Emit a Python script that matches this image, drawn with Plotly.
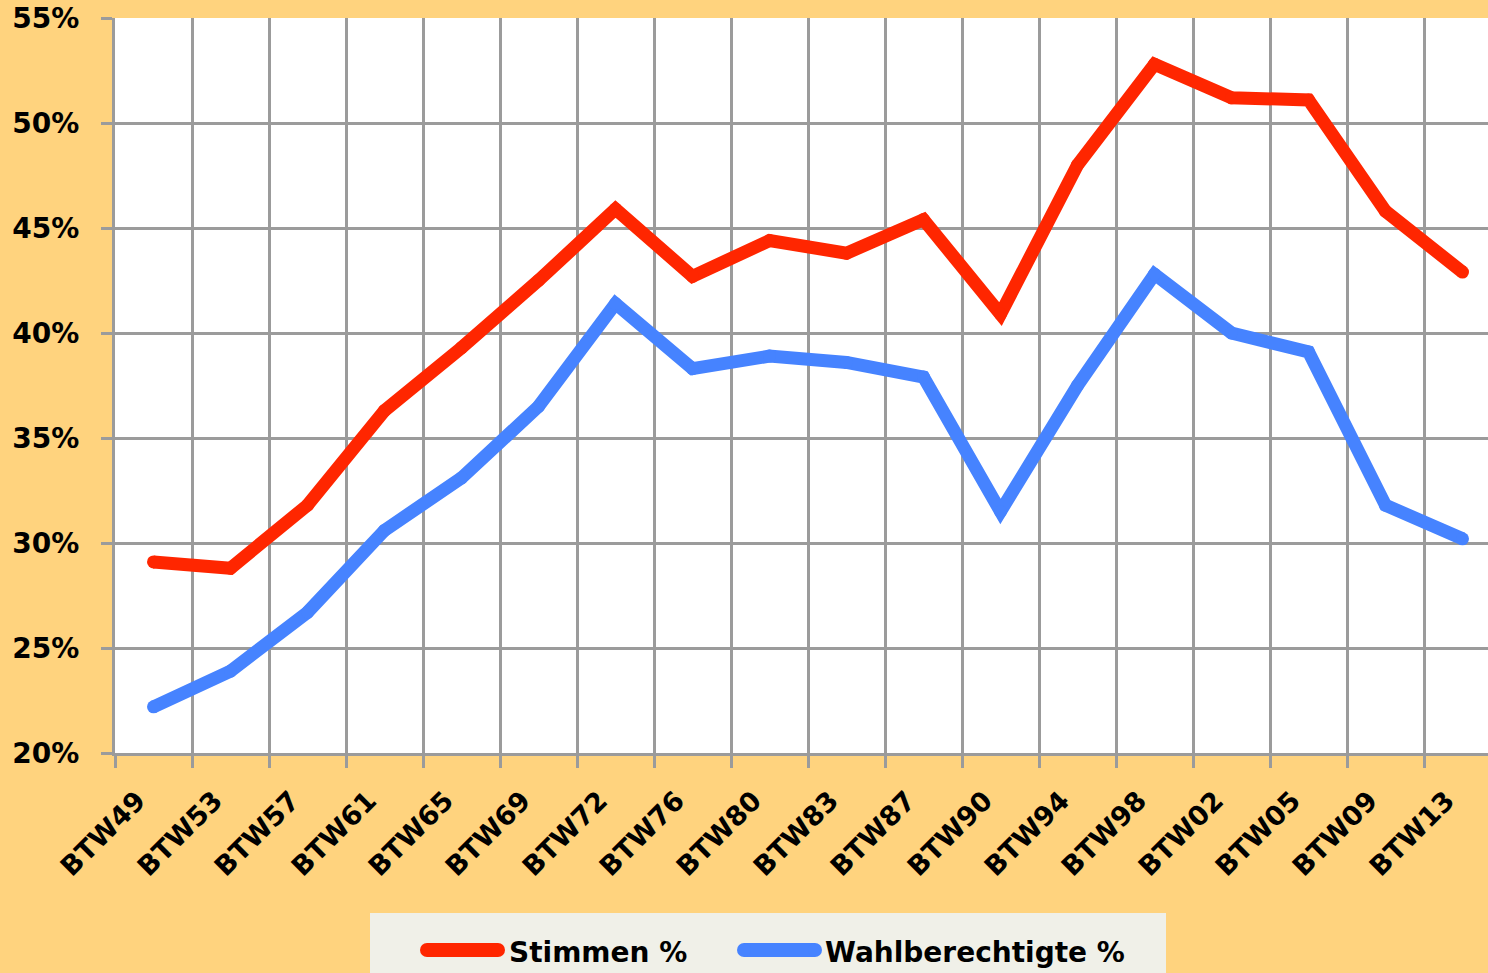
import plotly.graph_objects as go

categories = ["BTW49", "BTW53", "BTW57", "BTW61", "BTW65", "BTW69", "BTW72", "BTW76",
              "BTW80", "BTW83", "BTW87", "BTW90", "BTW94", "BTW98", "BTW02", "BTW05",
              "BTW09", "BTW13"]
stimmen = [29.1, 28.8, 31.8, 36.3, 39.3, 42.5, 45.9, 42.7, 44.4, 43.8, 45.4, 40.9,
           48.0, 52.8, 51.2, 51.1, 45.8, 42.9]
wahlberechtigte = [22.2, 23.9, 26.7, 30.6, 33.1, 36.5, 41.4, 38.3, 38.9, 38.6, 37.9, 31.5,
                   37.5, 42.8, 40.0, 39.1, 31.8, 30.2]
series_names = ["Stimmen %", "Wahlberechtigte %"]
y_ticks = [20, 25, 30, 35, 40, 45, 50, 55]

RED = "#FF2600"
BLUE = "#4683FF"
GRID = "#9B9B9B"
BG = "#FFD37E"
FONT = "DejaVu Sans"

W, H = 1488, 973
ML, MR, MT, MB = 115, 0, 18, 220
PW = W - ML - MR
PH = H - MT - MB


def px2x(px):
    return (px - ML) / PW


def px2y(py):
    return (H - MB - py) / PH


fig = go.Figure()
for name, vals, col in [(series_names[0], stimmen, RED), (series_names[1], wahlberechtigte, BLUE)]:
    fig.add_trace(go.Scatter(
        x=categories, y=vals, name=name, mode="lines+markers",
        line=dict(color=col, width=13, simplify=False),
        marker=dict(color=col, size=13, line=dict(width=0)),
        showlegend=False, hoverinfo="x+y",
    ))

shapes = []
# legend box
shapes.append(dict(type="rect", xref="paper", yref="paper",
                   x0=px2x(370), x1=px2x(1166), y0=px2y(913), y1=px2y(1000),
                   fillcolor="#F0F0E8", line=dict(width=0), layer="above"))


def pill(xa, xb, yc, th, col):
    r = th / 2
    out = [dict(type="rect", xref="paper", yref="paper",
                x0=px2x(xa + r), x1=px2x(xb - r), y0=px2y(yc - r), y1=px2y(yc + r),
                fillcolor=col, line=dict(width=0), layer="above")]
    for cx in (xa + r, xb - r):
        out.append(dict(type="circle", xref="paper", yref="paper",
                        x0=px2x(cx - r), x1=px2x(cx + r), y0=px2y(yc - r), y1=px2y(yc + r),
                        fillcolor=col, line=dict(width=0), layer="above"))
    return out


shapes += pill(420, 505, 950, 14, RED)
shapes += pill(737, 822, 950, 14, BLUE)

annotations = [
    dict(text=series_names[0], xref="paper", yref="paper", x=px2x(507), y=px2y(952),
         xanchor="left", yanchor="middle", showarrow=False,
         font=dict(family=FONT, size=28, color="black", weight="bold")),
    dict(text=series_names[1], xref="paper", yref="paper", x=px2x(823), y=px2y(952),
         xanchor="left", yanchor="middle", showarrow=False,
         font=dict(family=FONT, size=28, color="black", weight="bold")),
]

fig.update_layout(
    width=W, height=H,
    margin=dict(l=ML, r=MR, t=MT, b=MB, autoexpand=False),
    paper_bgcolor=BG, plot_bgcolor="white",
    showlegend=False,
    shapes=shapes, annotations=annotations,
    xaxis=dict(
        type="category", range=[-0.5, 17.5 - 13 / 77],
        tickson="boundaries", ticks="outside", ticklen=12, tickwidth=3, tickcolor=GRID,
        showgrid=True, gridcolor=GRID, gridwidth=3,
        showline=True, linecolor=GRID, linewidth=3,
        tickangle=-45, tickfont=dict(family=FONT, size=27, color="black", weight="bold"),
        ticklabelstandoff=18, ticklabelshift=-16,
        fixedrange=True,
    ),
    yaxis=dict(
        range=[20, 55], tickvals=y_ticks, ticktext=[f"{v}%" for v in y_ticks],
        ticks="outside", ticklen=11, tickwidth=3, tickcolor=GRID,
        showgrid=True, gridcolor=GRID, gridwidth=3,
        showline=True, linecolor=GRID, linewidth=3, zeroline=False,
        tickfont=dict(family=FONT, size=28, color="black", weight="bold"),
        ticklabelstandoff=16,
        fixedrange=True,
    ),
)

fig.write_html("out.html", config={"displayModeBar": False},
               post_script="document.body.style.margin='0px';document.body.style.overflow='hidden';")
